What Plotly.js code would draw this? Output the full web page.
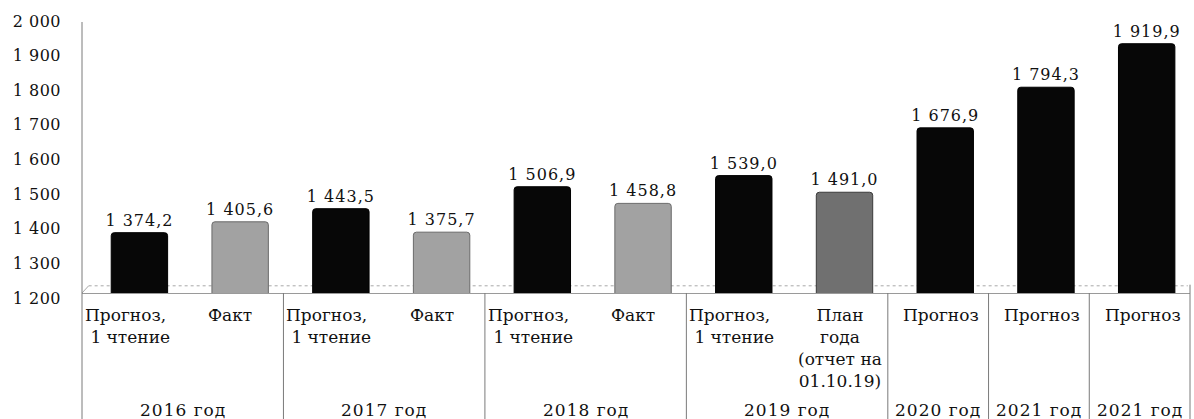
<!DOCTYPE html>
<html><head><meta charset="utf-8">
<script src="https://cdn.plot.ly/plotly-3.0.1.min.js"></script>
<style>
html,body{margin:0;padding:0;background:#fff}
#chart{width:1194px;height:419px}
.bartext{letter-spacing:1px}
.ytick text{letter-spacing:0.5px}
</style>
</head><body><div id="chart"></div>
<script>
// ---- data ----
const categoryLabels = ['Прогноз,<br>\u00a01 чтение','Факт','Прогноз,<br>\u00a01 чтение','Факт','Прогноз,<br>\u00a01 чтение','Факт','Прогноз,<br>\u00a01 чтение','План<br>года<br>(отчет на<br>01.10.19)','Прогноз','Прогноз','Прогноз'];
const kinds = ['forecast','actual','forecast','actual','forecast','actual','forecast','plan','forecast','forecast','forecast'];
const values = [1374.2,1405.6,1443.5,1375.7,1506.9,1458.8,1539.0,1491.0,1676.9,1794.3,1919.9];
const yearLabels = ['2016 год','2017 год','2018 год','2019 год','2020 год','2021 год','2021 год'];
const yearSpans = [2,2,2,2,1,1,1];
const yTickVals = [1200,1300,1400,1500,1600,1700,1800,1900,2000];

// ---- styling ----
const FONT = 'DejaVu Serif';
const kindColor = {forecast:'#070707', actual:'#a2a2a2', plan:'#707070'};
const kindLine = {forecast:'#000000', actual:'#6a6a6a', plan:'#3a3a3a'};
const xIdx = values.map((_, i) => i);

const trace = {
  type:'bar', x:xIdx, y:values,
  width:0.56, offset:-0.21,
  marker:{color:kinds.map(k=>kindColor[k]), line:{color:kinds.map(k=>kindLine[k]), width:1}, cornerradius:3},
  texttemplate:'%{y:,.1f}', textposition:'outside', constraintext:'none',
  textfont:{family:FONT, size:16, color:'#111'},
  cliponaxis:false, hoverinfo:'skip'
};

const plotH = 419 - 16 - 126;
const bottomY = -126 / plotH;
const shapes = [];
// left vertical line (axis + table border)
shapes.push({type:'line', xref:'paper', yref:'paper', x0:0, x1:0, y0:(293-22)/plotH, y1:bottomY, line:{color:'#7a7a7a', width:1}});
// right border
shapes.push({type:'line', xref:'paper', yref:'paper', x0:1, x1:1, y0:0.03, y1:bottomY, line:{color:'#7a7a7a', width:1}});
// group separators
let pos = 0;
yearSpans.forEach((s, gi) => {
  pos += s;
  if (gi < yearSpans.length - 1) {
    shapes.push({type:'line', xref:'x', yref:'paper', x0:pos-0.5, x1:pos-0.5, y0:0, y1:bottomY, line:{color:'#7a7a7a', width:1}});
  }
});
// floor back edge (behind the bars)
shapes.push({type:'line', layer:'below', xref:'paper', yref:'paper', x0:0.006, x1:0.998, y0:0.026, y1:0.026, line:{color:'#a8a8a8', width:1, dash:'dot'}});
shapes.push({type:'line', layer:'below', xref:'paper', yref:'paper', x0:0, x1:0.006, y0:0, y1:0.026, line:{color:'#a8a8a8', width:1}});

const annotations = [];
categoryLabels.forEach((lab, i) => {
  const twoLine = kinds[i] === 'forecast' && lab.indexOf('<br>') >= 0;
  annotations.push({
    x: twoLine ? i - 0.5 : i, y:0, xref:'x', yref:'paper',
    xanchor: twoLine ? 'left' : 'center', yanchor:'top',
    align: twoLine ? 'left' : 'center',
    xshift: twoLine ? 1 : (kinds[i]==='actual' ? -3 : 3), yshift:-10,
    text: lab, showarrow:false,
    font:{family:FONT, size:17, color:'#111'}
  });
});
pos = 0;
yearLabels.forEach((yl, gi) => {
  const center = pos + (yearSpans[gi] - 1) / 2;
  pos += yearSpans[gi];
  annotations.push({
    x:center, y:0, xref:'x', yref:'paper', xanchor:'center', yanchor:'middle',
    yshift:-117, text:'<span style="letter-spacing:1px">' + yl + '</span>', showarrow:false,
    font:{family:FONT, size:17, color:'#111'}
  });
});

const layout = {
  width:1194, height:419,
  margin:{l:82, r:4, t:16, b:126},
  paper_bgcolor:'#fff', plot_bgcolor:'#fff',
  separators:', ',
  showlegend:false,
  bargap:0.44,
  xaxis:{range:[-0.5, 10.5], showticklabels:false, ticks:'', showgrid:false, zeroline:false,
         showline:true, linecolor:'#9a9a9a', linewidth:1, fixedrange:true},
  yaxis:{range:[1200, 2000], tickvals:yTickVals, tickformat:',d', showgrid:false, zeroline:false,
         showline:false, ticks:'', ticklabelstandoff:20, ticklabelshift:5,
         tickfont:{family:FONT, size:16, color:'#111'}, fixedrange:true},
  shapes:shapes,
  annotations:annotations
};

Plotly.newPlot('chart', [trace], layout, {staticPlot:true, displayModeBar:false});
</script></body></html>
